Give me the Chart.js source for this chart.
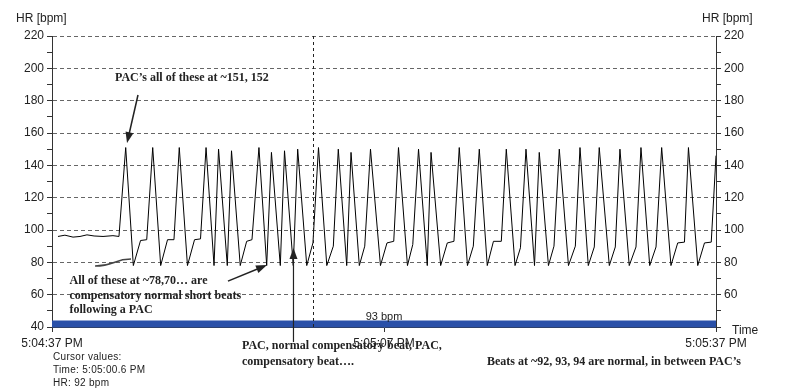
<!DOCTYPE html>
<html>
<head>
<meta charset="utf-8">
<script src="https://cdn.jsdelivr.net/npm/chart.js@4.4.0/dist/chart.umd.min.js"></script>
<style>
  html, body { margin: 0; padding: 0; background: #fff; }
  #wrap { width: 786px; height: 388px; }
</style>
</head>
<body>
<div id="wrap"><canvas id="hr" width="786" height="388"></canvas></div>
<script>
// Beat-to-beat heart rate, seconds after 5:04:37 PM
const beatSeconds = [
  0.54, 1.17, 1.90, 2.53, 3.16, 3.80, 4.61, 5.51, 6.05,
  6.66, 7.35, 8.00, 8.56, 9.10, 9.82, 10.44, 11.02, 11.50, 12.24,
  12.88, 13.42, 13.92, 14.64, 15.05, 15.84, 16.22, 17.01, 17.59, 18.07,
  18.70, 19.40, 19.83, 20.63, 21.01, 21.80, 22.20, 23.02, 23.58, 24.08,
  24.83, 25.42, 25.87, 26.63, 27.02, 27.77, 28.26, 28.78, 29.68, 30.27,
  30.88, 31.31, 32.12, 32.60, 33.12, 33.91, 34.25, 35.12, 35.72, 36.32,
  36.80, 37.54, 38.07, 38.61, 39.33, 39.89, 40.60, 41.05, 41.84, 42.33,
  42.83, 43.60, 44.03, 44.86, 45.36, 45.84, 46.67, 47.29, 47.71, 48.46,
  49.00, 49.45, 50.36, 50.90, 51.32, 52.16, 52.77, 53.22, 54.01, 54.58,
  55.09, 55.93, 56.54, 57.15, 57.51, 58.35, 58.96, 59.57, 60.00
];
const beatRate = [
  96, 96.8, 95.6, 96, 97, 96.3, 96, 96.5, 96,
  151, 78, 93.5, 94, 151, 78, 94, 94, 151, 78,
  94, 94.5, 151, 78, 150, 78, 149, 78, 93, 94,
  151, 78, 148, 78, 149, 78, 150, 78, 92, 151,
  78, 90, 150, 78, 148, 78, 90, 150, 78, 92,
  93, 151, 78, 91, 150, 78, 148, 78, 92, 93,
  151, 78, 90, 150, 78, 93, 93, 150, 78, 89,
  150, 78, 148, 78, 90, 150, 78, 90, 151, 78,
  89.5, 151, 78, 89.5, 150, 78, 89.5, 151, 78, 89.5,
  151, 78, 92, 92.5, 151, 78, 92, 92.5, 146
];

// Average band along the bottom
const averageRate = 41.9;
const averageLabel = '93 bpm';

// Axes
const timeTickSeconds = [0, 30, 60];
const timeTickLabels = ['5:04:37 PM', '5:05:07 PM', '5:05:37 PM'];
const rateMin = 40;
const rateMax = 220;

// Cursor
const cursorSeconds = 23.6;
const cursorLines = ['Cursor values:', 'Time: 5:05:00.6 PM', 'HR: 92 bpm'];

const SANS = '"Liberation Sans", Arial, sans-serif';
const SERIF_BOLD = 'bold 12px "Liberation Serif", "Times New Roman", serif';

function arrow(ctx, x1, y1, x2, y2, head, wide) {
  const a = Math.atan2(y2 - y1, x2 - x1);
  const c = Math.cos(a), s = Math.sin(a);
  ctx.beginPath();
  ctx.moveTo(x1, y1);
  ctx.lineTo(x2 - c * head * 0.7, y2 - s * head * 0.7);
  ctx.stroke();
  ctx.beginPath();
  ctx.moveTo(x2, y2);
  ctx.lineTo(x2 - head * c + wide * s, y2 - head * s - wide * c);
  ctx.lineTo(x2 - head * c - wide * s, y2 - head * s + wide * c);
  ctx.closePath();
  ctx.fill();
}

// Cursor line + text notes drawn on top of the chart
const notesPlugin = {
  id: 'notes',
  afterDatasetsDraw(chart) {
    const {ctx, chartArea: area, scales: {x}} = chart;
    const cx = Math.round(x.getPixelForValue(cursorSeconds)) + 0.5;
    ctx.save();
    ctx.strokeStyle = '#222';
    ctx.lineWidth = 1;
    ctx.setLineDash([3, 3]);
    ctx.beginPath();
    ctx.moveTo(cx, area.top);
    ctx.lineTo(cx, area.bottom + 1);
    ctx.stroke();
    ctx.restore();
  },
  afterDraw(chart) {
    const {ctx, chartArea: area, scales: {x, y}} = chart;
    const px = t => x.getPixelForValue(t);
    const py = v => y.getPixelForValue(v);
    ctx.save();
    ctx.fillStyle = '#222';
    ctx.strokeStyle = '#222';
    ctx.textBaseline = 'middle';
    ctx.textAlign = 'left';

    // axis titles
    ctx.font = '12px ' + SANS;
    ctx.fillText('HR [bpm]', 16, area.top - 17);
    ctx.fillText('HR [bpm]', area.right - 14, area.top - 17);
    ctx.fillText('Time', area.right + 16, area.bottom + 4);

    // average label
    ctx.font = '11px ' + SANS;
    ctx.textAlign = 'center';
    ctx.fillText(averageLabel, px(30), py(46.5));

    // cursor readout
    ctx.font = '10px ' + SANS;
    ctx.textAlign = 'left';
    ctx.letterSpacing = '0.3px';
    cursorLines.forEach((line, i) => {
      ctx.fillText(line, area.left + 1, area.bottom + 30 + i * 13);
    });
    ctx.letterSpacing = '0px';

    // handwritten-style notes
    ctx.font = SERIF_BOLD;
    ctx.fillText('PAC\u2019s all of these at ~151, 152', px(5.69), py(194));
    ctx.fillText('All of these at ~78,70\u2026 are', px(1.58), py(68.4));
    ctx.fillText('compensatory normal short beats', px(1.58), py(59.2));
    ctx.fillText('following a PAC', px(1.58), py(50.8));
    ctx.fillText('PAC, normal compensatory beat, PAC,', px(17.17), py(28.25));
    ctx.fillText('compensatory beat\u2026.', px(17.17), py(18.4));
    ctx.fillText('Beats at ~92, 93, 94 are normal, in between PAC\u2019s', px(39.3), py(18.4));

    ctx.lineWidth = 1.5;
    arrow(ctx, px(7.77), py(183.5), px(6.78), py(153.8), 11, 4);
    arrow(ctx, px(15.9), py(68.4), px(19.43), py(78.3), 11, 4);
    ctx.lineWidth = 1.2;
    arrow(ctx, px(21.82), py(30.7), px(21.82), py(88.9), 11, 4);

    // leader squiggle under the first trough
    ctx.strokeStyle = '#444';
    ctx.lineWidth = 1.5;
    ctx.beginPath();
    ctx.moveTo(px(3.89), py(77.7));
    ctx.bezierCurveTo(px(5.6), py(77.7), px(5.6), py(82), px(7.14), py(82));
    ctx.stroke();
    ctx.restore();
  }
};

const gridColor = ctx => (ctx.tick && ctx.tick.value % 20 === 0 && ctx.tick.value > rateMin) ? '#666' : 'rgba(0,0,0,0)';
const rateLabel = v => (v % 20 === 0 ? String(v) : '');
const rateLabelRight = v => (v % 20 === 0 && v > rateMin ? String(v) : '');

new Chart(document.getElementById('hr'), {
  type: 'line',
  data: {
    datasets: [
      {
        data: beatSeconds.map((t, i) => ({x: t, y: beatRate[i]})),
        borderColor: '#000',
        borderWidth: 1,
        pointRadius: 0,
        tension: 0,
        yAxisID: 'y'
      },
      {
        data: [{x: 0, y: averageRate}, {x: 60, y: averageRate}],
        borderColor: '#2a50a8',
        borderWidth: 7,
        pointRadius: 0,
        clip: false,
        yAxisID: 'y'
      }
    ]
  },
  options: {
    responsive: false,
    animation: false,
    devicePixelRatio: 1,
    layout: {padding: {top: 36, left: 0, right: 0, bottom: 0}},
    plugins: {legend: {display: false}, tooltip: {enabled: false}},
    scales: {
      x: {
        type: 'linear',
        min: 0,
        max: 60,
        afterBuildTicks: s => { s.ticks = timeTickSeconds.map(v => ({value: v})); },
        afterFit: s => { s.height = 61; },
        grid: {drawOnChartArea: false, tickLength: 5, tickColor: '#333'},
        border: {color: '#333'},
        ticks: {
          autoSkip: false,
          maxRotation: 0,
          padding: 4,
          color: '#222',
          font: {family: SANS, size: 12},
          callback: v => timeTickLabels[timeTickSeconds.indexOf(v)]
        }
      },
      y: {
        position: 'left',
        min: rateMin,
        max: rateMax,
        afterFit: s => { s.width = 52; },
        grid: {color: gridColor, tickColor: '#333', tickLength: 5},
        border: {color: '#333', dash: [4, 3]},
        ticks: {stepSize: 10, autoSkip: false, padding: 3, color: '#222', font: {family: SANS, size: 12}, callback: rateLabel}
      },
      y2: {
        position: 'right',
        min: rateMin,
        max: rateMax,
        afterFit: s => { s.width = 70; },
        grid: {drawOnChartArea: false, tickColor: '#333', tickLength: 5},
        border: {color: '#333'},
        ticks: {stepSize: 10, autoSkip: false, padding: 3, color: '#222', font: {family: SANS, size: 12}, callback: rateLabelRight}
      }
    }
  },
  plugins: [notesPlugin]
});
</script>
</body>
</html>
